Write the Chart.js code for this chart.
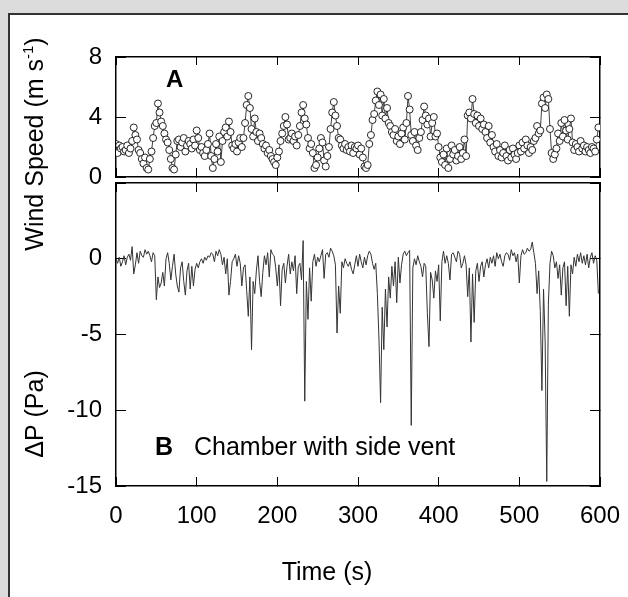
<!DOCTYPE html>
<html>
<head>
<meta charset="utf-8">
<title>Wind speed and chamber pressure</title>
<script src="https://cdn.jsdelivr.net/npm/chart.js@4.4.1/dist/chart.umd.min.js"></script>
<style>
  html, body { margin: 0; width: 628px; height: 597px; overflow: hidden; background: #dcdcdc; }
  #frame { position: absolute; left: 8px; top: 13px; right: 0; bottom: 0; background: #fff;
           border-left: 2px solid #333; border-top: 2px solid #333; }
  canvas { position: absolute; left: 0; top: 0; }
</style>
</head>
<body>
<div id="frame"></div>
<canvas id="windChart" width="628" height="597"></canvas>
<canvas id="pressureChart" width="628" height="597"></canvas>
<script>
'use strict';

// *********** DATA (one value every 2 s) ***********
let sampleStep = 2; // seconds between samples

// wind speed, m/s, panel A
let windSpeed = [
  2.2, 1.6, 2.1, 1.9, 2.0, 1.7, 1.8, 2.1, 1.6, 1.9,
  2.4, 3.3, 2.8, 2.5, 1.8, 1.6, 1.2, 0.9, 1.3, 0.6,
  0.5, 1.2, 1.7, 2.6, 3.4, 3.6, 4.9, 4.3, 3.7, 3.4,
  2.9, 2.5, 2.3, 1.8, 1.2, 0.6, 0.5, 1.5, 2.4, 2.5,
  2.0, 2.3, 2.6, 1.7, 2.1, 2.4, 2.2, 1.9, 2.5, 2.1,
  3.1, 2.6, 1.8, 2.0, 1.6, 1.4, 1.8, 2.2, 2.9, 1.4,
  0.6, 1.2, 2.2, 1.7, 2.7, 1.0, 2.4, 3.0, 3.3, 2.7,
  3.7, 3.0, 2.1, 1.9, 2.2, 1.7, 2.3, 2.6, 2.0, 2.6,
  3.6, 4.8, 5.4, 4.6, 3.2, 2.7, 3.9, 3.0, 2.4, 2.9,
  2.6, 2.2, 1.9, 2.1, 1.6, 1.8, 1.4, 1.2, 1.0, 0.8,
  1.3, 1.7, 2.4, 2.9, 3.4, 4.0, 3.5, 2.5, 2.6, 2.9,
  2.4, 2.7, 2.1, 2.8, 3.4, 4.3, 4.8, 3.9, 3.5, 2.6,
  1.9, 2.2, 1.6, 0.6, 0.8, 1.3, 1.9, 2.6, 2.3, 1.1,
  0.7, 1.4, 2.0, 3.2, 4.3, 5.0, 4.1, 3.4, 2.6, 2.5,
  2.1, 1.9, 2.2, 1.8, 2.0, 1.7, 2.1, 1.6, 2.0, 1.9,
  2.1, 1.5, 1.9, 1.3, 0.7, 0.6, 0.8, 2.2, 2.8, 3.8,
  4.2, 5.1, 5.7, 4.8, 5.5, 4.1, 5.2, 3.9, 4.6, 3.6,
  3.4, 3.0, 2.8, 3.2, 2.4, 2.7, 2.2, 2.9, 3.3, 2.5,
  3.6, 5.4, 4.5, 2.8, 2.4, 3.0, 2.1, 1.8, 2.6, 3.0,
  3.8, 4.7, 4.1, 3.5, 3.9, 2.7, 3.6, 4.0, 2.7, 2.9,
  2.0, 1.3, 1.0, 1.5, 0.8, 1.9, 0.6, 1.2, 2.1, 1.5,
  1.8, 1.1, 1.4, 2.0, 1.2, 1.6, 2.5, 1.4, 4.1, 4.3,
  3.9, 5.2, 4.2, 3.6, 4.1, 3.4, 3.9, 3.2, 3.5, 3.0,
  2.6, 3.4, 2.3, 2.8, 2.0, 1.7, 2.2, 1.4, 1.8, 1.3,
  1.6, 2.1, 1.4, 1.1, 1.8, 1.3, 1.9, 1.5, 1.2, 1.6,
  2.1, 1.7, 2.3, 1.9, 2.5, 2.1, 1.6, 2.0, 1.8, 2.4,
  2.6, 3.4, 2.9, 3.1, 4.9, 5.3, 4.6, 5.5, 5.2, 3.2,
  1.6, 1.2, 1.5, 1.9, 2.9, 2.4, 3.6, 2.7, 3.8, 3.1,
  2.5, 3.2, 3.9, 2.3, 1.8, 2.2, 2.0, 1.7, 2.4, 1.9,
  2.1, 1.7, 2.0, 1.8, 1.6, 2.0, 1.9, 1.7, 2.5, 3.3
];

// pressure difference, Pa, panel B
let deltaP = [
  0.0, -0.3, 0.1, -0.5, -0.2, 0.2, -0.4, 0.1, 0.3, -0.1,
  0.8, -1.0, -0.4, 0.4, -0.3, 0.5, 0.2, 0.1, 0.6, 0.3,
  0.5, 0.2, -0.2, 0.4, 0.2, -2.7, -1.2, -1.9, -1.6, -0.9,
  -1.8, 0.0, 0.4, -0.3, -1.4, -0.5, 0.3, -1.0, -1.8, -2.2,
  -0.6, -0.2, -1.5, -2.4, -0.8, -0.3, -2.0, -0.5, -1.8, -0.7,
  -0.3, -0.6, -0.2, 0.0, -0.3, 0.1, -0.1, 0.2, 0.1, 0.4,
  0.3, -0.2, 0.5, 0.2, 0.6, 0.3, -0.4, 0.1, -1.0, 0.0,
  -2.4, -1.5, -0.2, 0.0, 0.3, -0.5, 0.2, -0.3, -1.8, -0.6,
  -0.4, -2.1, -3.8, -1.2, -6.0, -1.5, -2.3, -0.8, 0.2, -1.5,
  -2.5, -0.9, 0.2, -0.4, 0.4, -1.2, 0.6, 0.3, 0.2, -0.6,
  -1.8, -0.4, -3.1, -0.7, -0.3, -1.6, -0.5, 0.3, -1.0, -0.2,
  -0.8, 0.2, -2.3, -0.5, -0.3, -1.4, 1.2, -9.4, -1.5, -4.0,
  -0.6, -2.8, -0.2, 0.3, -0.5, 0.1, -0.2, 0.2, 0.6, -1.3,
  0.3, 0.4, 0.1, 0.7, 0.5, 0.2, -0.4, -4.9, -1.8, -3.6,
  -0.2, -0.6, 0.0, -0.3, -0.5, -0.2, -0.7, -1.0, -0.4, 0.2,
  -0.5, 0.3, -0.2, -0.6, 0.1, -0.4, 0.2, 0.5, 0.3, -0.3,
  -0.7, -0.3, -2.3, -5.3, -9.5, -3.2, -6.0, -2.0, -4.5, -1.2,
  -2.6, -0.5, -1.8, -0.2, -2.9, 0.1, -1.6, -0.4, 0.3, 0.5,
  0.2, 0.4, 0.55, -11.0, -0.6, 0.0, -0.4, 0.2, -0.2, -0.5,
  -1.2, -0.3, -0.5, -3.6, -5.8, -0.9, -1.4, -2.6, -0.8, -1.5,
  -0.4, -4.1, -0.2, 0.5, -0.3, 0.2, -0.3, -1.4, 0.3, 0.4,
  0.1, -0.2, 0.5, 0.3, -0.6, -0.3, 0.2, -0.4, -2.5, -0.6,
  -5.5, -1.0, -4.2, -0.8, -0.3, -1.5, -0.5, -0.2, -1.2, -0.4,
  0.0, -0.6, 0.1, -0.3, 0.2, -0.5, 0.4, 0.0, 0.3, -0.2,
  -0.5, 0.2, 0.4, 0.3, -0.1, 0.6, 0.2, 0.4, -0.2, 0.3,
  -1.6, 0.2, 0.6, 0.3, 0.4, 0.7, 0.5, 0.6, 1.1, 0.4,
  -0.3, -2.3, -0.8, -3.5, -8.7, -2.0, -5.5, -14.7, -3.0, -0.3,
  0.5, 0.2, -0.6, -0.2, -1.3, -0.4, -2.4, -0.6, -0.2, -3.1,
  -0.5, -3.8, -0.4, -1.0, 0.1, -0.5, 0.3, -0.2, 0.4, -0.3,
  0.2, -0.4, 0.3, -0.6, 0.1, 0.4, -0.3, 0.2, -0.1, -2.3
];

// axis ranges and tick steps
let timeRange = [0, 600];
let timeStep = 100;
let windRange = [0, 8];
let windStep = 4;
let pressureRange = [-15, 5];
let pressureStep = 5;

let timeSec = windSpeed.map((v, i) => i * sampleStep);

// *********** STYLE ***********
const FONT = '"Liberation Sans", Arial, sans-serif';
Chart.defaults.font.family = FONT;
Chart.defaults.color = '#000';

// one side of the box round a panel: border + inward ticks
function sideScale(position, range, step, size, tickLen, showLabels, labelPad) {
  return {
    type: 'linear',
    position: position,
    min: range[0],
    max: range[1],
    ticks: {
      stepSize: step,
      display: showLabels,
      color: '#000',
      font: { size: 24 },
      padding: labelPad || 0,
      autoSkip: false,
      maxRotation: 0,
      // top of panel B (5) has no label
      callback: v => (v === 5 ? '' : v)
    },
    grid: {
      drawOnChartArea: false,
      drawTicks: true,
      tickLength: -tickLen,
      color: '#000',
      lineWidth: 1
    },
    border: { display: true, color: '#000', width: 1.5 },
    afterFit: s => {
      // fixed box size, labels may overhang the plot edges
      if (s.isHorizontal()) {
        s.height = size;
        s.paddingLeft = 0;
        s.paddingRight = 0;
      } else {
        s.width = size;
        s.paddingTop = 0;
        s.paddingBottom = 0;
      }
    }
  };
}

// texts drawn straight on the canvas
function textPlugin(drawFn) {
  return { id: 'panelText', afterDraw: chart => drawFn(chart.ctx) };
}

function drawWindTexts(ctx) {
  ctx.save();
  ctx.fillStyle = '#000';
  ctx.font = 'bold 24px ' + FONT;
  ctx.textBaseline = 'alphabetic';
  ctx.fillText('A', 166, 87);

  // rotated y title with superscript
  ctx.translate(43, 144);
  ctx.rotate(-Math.PI / 2);
  let main = 'Wind Speed (m s';
  ctx.font = '25px ' + FONT;
  let w1 = ctx.measureText(main).width;
  let w3 = ctx.measureText(')').width;
  ctx.font = '15px ' + FONT;
  let w2 = ctx.measureText('-1').width;
  let x0 = -(w1 + w2 + w3) / 2;
  ctx.font = '25px ' + FONT;
  ctx.fillText(main, x0, 0);
  ctx.fillText(')', x0 + w1 + w2, 0);
  ctx.font = '15px ' + FONT;
  ctx.fillText('-1', x0 + w1, -10);
  ctx.restore();
}

function drawPressureTexts(ctx) {
  ctx.save();
  ctx.fillStyle = '#000';
  ctx.textBaseline = 'alphabetic';
  ctx.font = 'bold 25px ' + FONT;
  ctx.fillText('B', 155, 455);
  ctx.font = '25px ' + FONT;
  ctx.fillText('Chamber with side vent', 194, 455);

  ctx.textAlign = 'center';
  ctx.fillText('Time (s)', 327, 580);

  ctx.translate(43, 414);
  ctx.rotate(-Math.PI / 2);
  ctx.fillText('\u0394P (Pa)', 0, 0);
  ctx.restore();
}

// *********** PANEL A ***********
let windCtx = document.getElementById('windChart').getContext('2d');
new Chart(windCtx, {
  type: 'line',
  data: {
    labels: timeSec,
    datasets: [{
      data: windSpeed,
      borderColor: '#111',
      borderWidth: 0.8,
      pointRadius: 3.5,
      pointBackgroundColor: '#fff',
      pointBorderColor: '#111',
      pointBorderWidth: 0.9,
      tension: 0
    }]
  },
  options: {
    responsive: false,
    animation: false,
    events: [],
    layout: { padding: { left: 0, right: 28, top: 57, bottom: 420 } },
    scales: {
      x: sideScale('bottom', timeRange, timeStep, 0, 9, false),
      xTop: sideScale('top', timeRange, timeStep, 0, 8, false),
      y: sideScale('left', windRange, windStep, 116, 10, true, 24),
      yRight: sideScale('right', windRange, windStep, 0, 10, false)
    },
    plugins: { legend: { display: false }, tooltip: { enabled: false } }
  },
  plugins: [textPlugin(drawWindTexts)]
});

// *********** PANEL B ***********
let pressureCtx = document.getElementById('pressureChart').getContext('2d');
new Chart(pressureCtx, {
  type: 'line',
  data: {
    labels: timeSec,
    datasets: [{
      data: deltaP,
      borderColor: '#333',
      borderWidth: 1,
      pointRadius: 0,
      tension: 0
    }]
  },
  options: {
    responsive: false,
    animation: false,
    events: [],
    layout: { padding: { left: 0, right: 28, top: 183, bottom: 51 } },
    scales: {
      x: sideScale('bottom', timeRange, timeStep, 60, 9, true, 25),
      xTop: sideScale('top', timeRange, timeStep, 0, 9, false),
      y: sideScale('left', pressureRange, pressureStep, 116, 10, true, 24),
      yRight: sideScale('right', pressureRange, pressureStep, 0, 10, false)
    },
    plugins: { legend: { display: false }, tooltip: { enabled: false } }
  },
  plugins: [textPlugin(drawPressureTexts)]
});
</script>
</body>
</html>
